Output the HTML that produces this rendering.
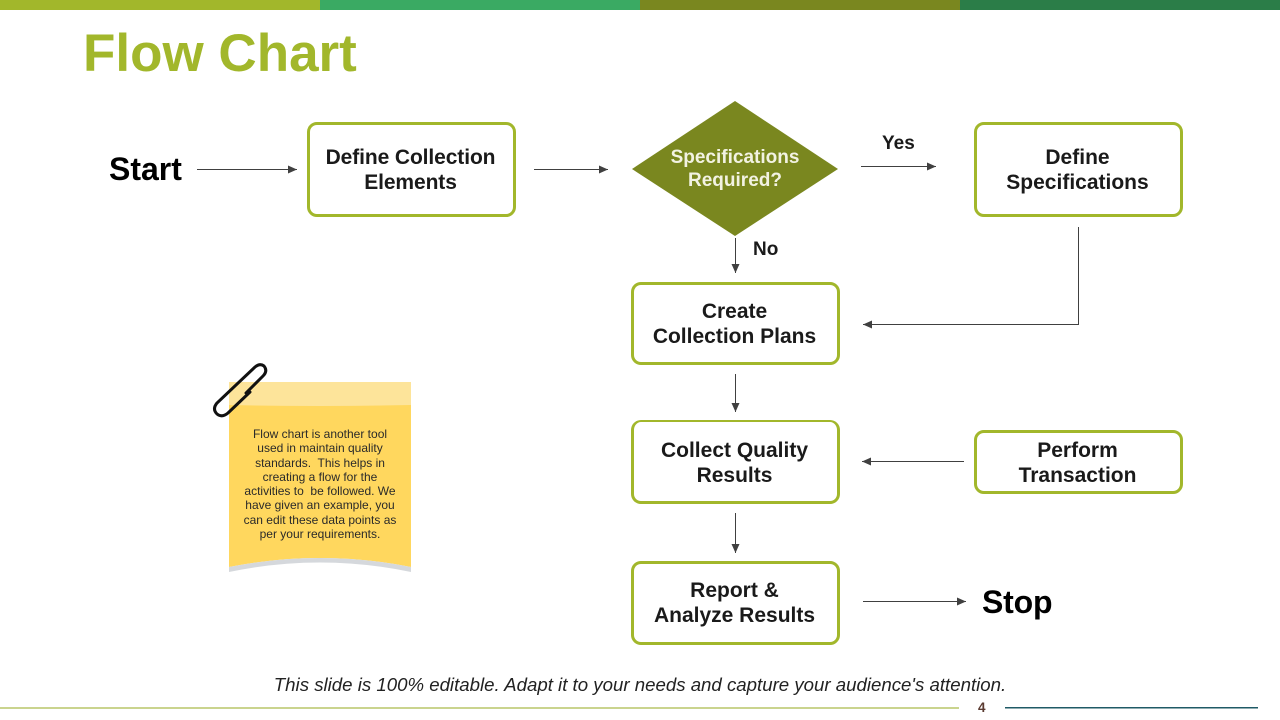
<!DOCTYPE html>
<html><head><meta charset="utf-8">
<style>
html,body{margin:0;padding:0;background:#fff}
#s{position:relative;width:1280px;height:720px;overflow:hidden;font-family:"Liberation Sans",sans-serif;background:#fff}
.bar{position:absolute;top:0;height:10px}
.box{position:absolute;box-sizing:border-box;border:3px solid #a2b72b;border-radius:10px;background:#fff;display:flex;align-items:center;justify-content:center;text-align:center;font-weight:bold;font-size:21px;line-height:25px;color:#1a1a1a;padding-right:2px}
.t{position:absolute;font-weight:bold;white-space:nowrap;color:#000}
svg{position:absolute;left:0;top:0}
</style></head><body><div id="s">
<div class="bar" style="left:0;width:320px;background:#a2b72b"></div>
<div class="bar" style="left:320px;width:320px;background:#3aaa63"></div>
<div class="bar" style="left:640px;width:320px;background:#7a871f"></div>
<div class="bar" style="left:960px;width:320px;background:#2b7d48"></div>
<div class="t" style="left:83px;top:24px;font-size:53px;line-height:60px;color:#a2b72b">Flow Chart</div>

<svg width="1280" height="720">
<defs><marker id="a" markerWidth="9" markerHeight="8" refX="9" refY="4" orient="auto" markerUnits="userSpaceOnUse"><path d="M0,0L9,4L0,8Z" fill="#404040"/></marker></defs>
<polygon points="735,101 838,169 735,236 632,169" fill="#7a871f"/>
<g stroke="#404040" stroke-width="1" fill="none">
<path d="M197,169.500H297" marker-end="url(#a)"/>
<path d="M534,169.500H608" marker-end="url(#a)"/>
<path d="M861,166.500H936" marker-end="url(#a)"/>
<path d="M735.500,238V273" marker-end="url(#a)"/>
<path d="M1078.500,227V324.500H863" marker-end="url(#a)"/>
<path d="M735.500,374V412" marker-end="url(#a)"/>
<path d="M964,461.500H862" marker-end="url(#a)"/>
<path d="M735.500,513V553" marker-end="url(#a)"/>
<path d="M863,601.500H966" marker-end="url(#a)"/>
</g>
<rect x="229" y="382" width="182" height="24" fill="#fde49a"/>
<path d="M229,405Q320,407 411,405V567Q320,549 229,567Z" fill="#ffd75e"/>
<path d="M229,567Q320,549 411,567V572Q320,553 229,572Z" fill="#d5d8dc"/>
<path d="M250,392L228,413Q222,418 217,414Q212,409 217,403L255,367Q260,363 264,366Q268,371 263,376L246,393" fill="none" stroke="#111" stroke-width="3" stroke-linecap="round"/>
<rect x="0" y="707.500" width="959" height="1" fill="#95a81c"/>
<rect x="1005" y="707" width="253" height="1.500" fill="#1f5a66"/>
</svg>

<div class="t" style="left:109px;top:150px;font-size:32px;line-height:38px">Start</div>
<div class="t" style="left:982px;top:583px;font-size:32px;line-height:38px;letter-spacing:-.2px">Stop</div>
<div class="t" style="left:882px;top:132px;font-size:19px;line-height:23px;color:#1a1a1a">Yes</div>
<div class="t" style="left:753px;top:238px;font-size:19px;line-height:23px;color:#1a1a1a">No</div>

<div class="box" style="left:307px;top:122px;width:209px;height:95px;letter-spacing:-.1px">Define Collection<br>Elements</div>
<div class="box" style="left:974px;top:122px;width:209px;height:95px">Define<br>Specifications</div>
<div class="box" style="left:631px;top:282px;width:209px;height:83px">Create<br>Collection Plans</div>
<div class="box" style="left:631px;top:421px;width:209px;height:84px;border-top-width:2px;margin-top:-1px;padding-top:2px">Collect Quality<br>Results</div>
<div class="box" style="left:974px;top:430px;width:209px;height:64px;padding-top:1px">Perform<br>Transaction</div>
<div class="box" style="left:631px;top:561px;width:209px;height:84px">Report &amp;<br>Analyze Results</div>

<div style="position:absolute;left:632px;top:146px;width:206px;text-align:center;font-weight:bold;font-size:19px;line-height:23px;color:#f2f2e2">Specifications<br>Required?</div>

<div style="position:absolute;left:229px;top:427px;width:182px;text-align:center;font-size:12px;line-height:14.300px;color:#2a2a2a">Flow chart is another tool<br>used in maintain quality<br>standards.&nbsp; This helps in<br>creating a flow for the<br>activities to&nbsp; be followed. We<br>have given an example, you<br>can edit these data points as<br>per your requirements.</div>

<div style="position:absolute;left:0;width:1280px;text-align:center;top:673px;font-style:italic;font-size:18.650px;line-height:24px;color:#222">This slide is 100% editable. Adapt it to your needs and capture your audience's attention.</div>
<div class="t" style="left:978px;top:700px;font-size:13.500px;line-height:16px;color:#5a3a30">4</div>
</div></body></html>
